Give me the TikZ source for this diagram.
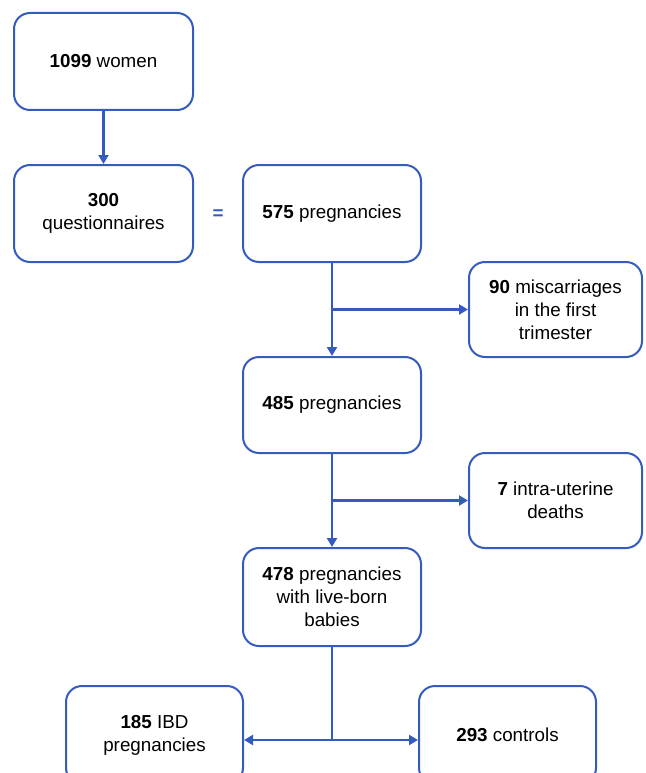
\documentclass[tikz,border=0pt]{standalone}
\usepackage{fontspec}
\setmainfont{Liberation Sans}
\usetikzlibrary{arrows.meta}
\definecolor{fblue}{RGB}{52,92,190}
\begin{document}
\begin{tikzpicture}[x=1pt,y=-1pt,
  box/.style={draw=fblue, line width=2pt, rounded corners=16pt, fill=white, align=center,
    font=\fontsize{18.8}{23}\selectfont, inner sep=0pt},
  arr/.style={draw=fblue, line width=2.2pt, -{Triangle[length=9pt,width=10pt]}},
  ln/.style={draw=fblue, line width=2.2pt}]
\useasboundingbox (0,0) rectangle (645,773);
\node[box, minimum width=179pt, minimum height=97pt] (b1) at (103.5,61.5) {\textbf{1099} women};
\node[box, minimum width=179pt, minimum height=97pt] (b2) at (103.5,213.5) {\textbf{300}\\questionnaires};
\node[box, minimum width=178pt, minimum height=97pt] (b3) at (332,213.5) {\textbf{575} pregnancies};
\node[box, minimum width=173pt, minimum height=95pt] (b4) at (555.5,309.5) {\textbf{90} miscarriages\\in the first\\trimester};
\node[box, minimum width=178pt, minimum height=96pt] (b5) at (332,405) {\textbf{485} pregnancies};
\node[box, minimum width=173pt, minimum height=95pt] (b6) at (555.5,500.5) {\textbf{7} intra-uterine\\deaths};
\node[box, minimum width=178pt, minimum height=98pt] (b7) at (332,597) {\textbf{478} pregnancies\\with live-born\\babies};
\node[box, minimum width=177pt, minimum height=98pt] (b8) at (154.5,735) {\textbf{185} IBD\\pregnancies};
\node[box, minimum width=177pt, minimum height=98pt] (b9) at (507.5,735) {\textbf{293} controls};
\node[text=fblue, font=\bfseries\fontsize{18.8}{20}\selectfont, inner sep=0pt] (eq) at (218,215) {=};

\draw[arr] (b1) -- (b2);
\draw[arr] (b3) -- (b5);
\coordinate (j1) at (b3.south |- b4.west);
\draw[arr] (j1) -- (b4.west);
\draw[arr] (b5) -- (b7);
\coordinate (j2) at (b5.south |- b6.west);
\draw[arr] (j2) -- (b6.west);
\coordinate (j3) at (332,740);
\draw[ln] (b7.south) -- (j3);
\draw[arr] (j3) -- (b8.east |- j3);
\draw[arr] (j3) -- (b9.west |- j3);
\end{tikzpicture}
\end{document}
